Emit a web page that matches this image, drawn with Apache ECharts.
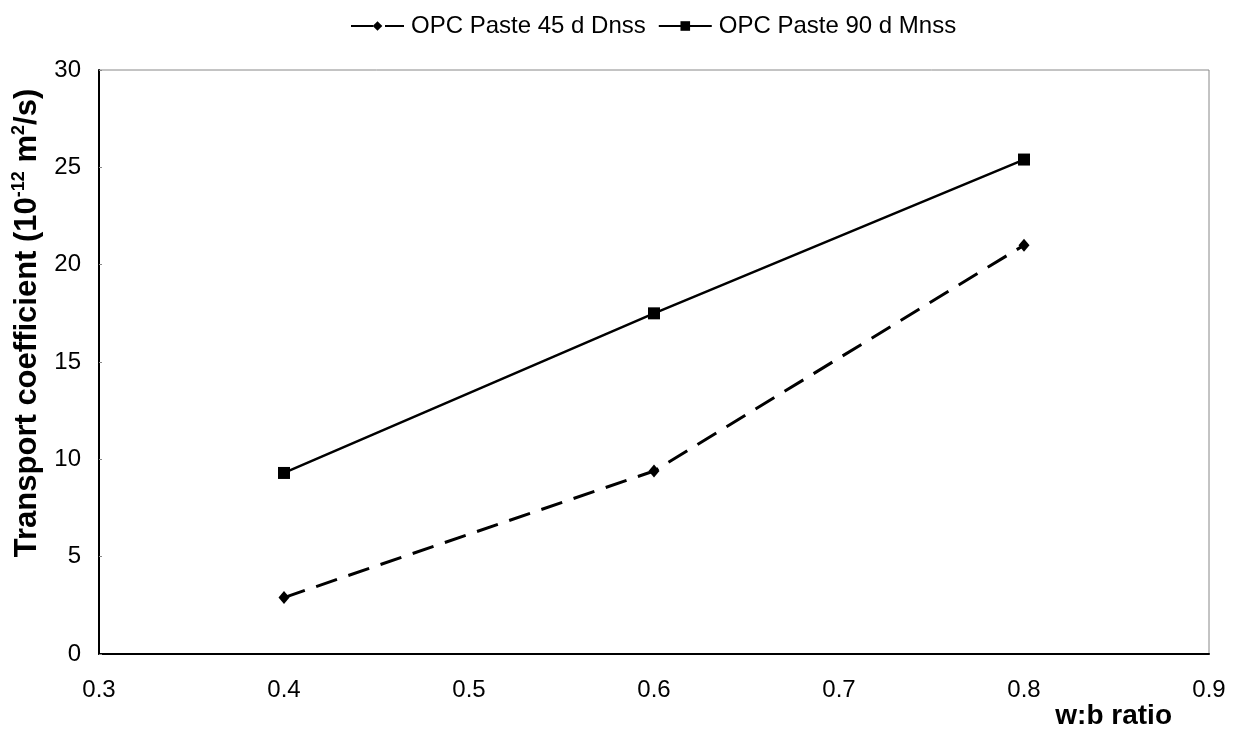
<!DOCTYPE html>
<html>
<head>
<meta charset="utf-8">
<script src="https://cdn.jsdelivr.net/npm/echarts@6/dist/echarts.min.js"></script>
<style>
    html, body { margin: 0; padding: 0; background: #fff; }
    #chart { width: 1234px; height: 730px; }
</style>
</head>
<body>
<div id="chart"></div>
<script>
    // w:b ratio
    const wbRatio = [0.4, 0.6, 0.8]
    const dnss45 = [2.9, 9.4, 21.0]
    const mnss90 = [9.3, 17.5, 25.4]
    const seriesNames = ['OPC Paste 45 d Dnss', 'OPC Paste 90 d Mnss']

    const pairs = (xs, ys) => xs.map((x, i) => [x, ys[i]])
    const font = '"Liberation Sans", Arial, sans-serif'

    let myChart = echarts.init(document.getElementById('chart'))
    myChart.setOption({
        animation: false,
        textStyle: { fontFamily: font },
        legend: {
            top: 9,
            left: 345,
            itemWidth: 53,
            itemHeight: 12,
            itemGap: 12,
            textStyle: { fontSize: 24, color: '#000', fontFamily: font, padding: [0, 0, 0, 2] },
            data: seriesNames
        },
        grid: {
            left: 99,
            right: 25,
            top: 70,
            bottom: 76,
            outerBoundsMode: 'none',
            containLabel: false,
            show: true,
            borderColor: '#888',
            borderWidth: 1
        },
        xAxis: {
            type: 'value',
            min: 0.3,
            max: 0.9,
            interval: 0.1,
            splitLine: { show: false },
            axisLine: { lineStyle: { color: '#000', width: 2 } },
            axisTick: { show: false },
            axisLabel: {
                color: '#000', fontSize: 24, margin: 24,
                formatter: v => v.toFixed(1)
            },
            name: 'w:b ratio',
            nameLocation: 'end',
            nameGap: -37,
            nameTextStyle: {
                fontSize: 28, fontWeight: 'bold', color: '#000',
                align: 'right', verticalAlign: 'top',
                padding: [48, 0, 0, 0]
            }
        },
        yAxis: {
            type: 'value',
            min: 0,
            max: 30,
            interval: 5,
            splitLine: { show: false },
            axisLine: { show: true, lineStyle: { color: '#000', width: 2 } },
            axisTick: { show: true, inside: true, length: 3, lineStyle: { color: '#888' } },
            axisLabel: { color: '#000', fontSize: 24, margin: 18 },
            name: '{t|Transport coefficient (10}{s|-12}{t| m}{s|2}{t|/s)}',
            nameLocation: 'middle',
            nameRotate: 90,
            nameGap: 52,
            nameTextStyle: {
                padding: [0, 0, 0, 78],
                rich: {
                    t: { fontSize: 31, fontWeight: 'bold', color: '#000', fontFamily: font, lineHeight: 36, verticalAlign: 'middle' },
                    s: { fontSize: 18, fontWeight: 'bold', color: '#000', fontFamily: font, verticalAlign: 'top' }
                }
            }
        },
        series: [
            {
                name: seriesNames[0],
                type: 'line',
                data: pairs(wbRatio, dnss45),
                symbol: 'diamond',
                symbolSize: [11, 13],
                itemStyle: { color: '#000' },
                lineStyle: { color: '#000', width: 3, type: [22, 12] }
            },
            {
                name: seriesNames[1],
                type: 'line',
                data: pairs(wbRatio, mnss90),
                symbol: 'rect',
                symbolSize: 12,
                itemStyle: { color: '#000' },
                lineStyle: { color: '#000', width: 2.5 }
            }
        ]
    })
</script>
</body>
</html>
